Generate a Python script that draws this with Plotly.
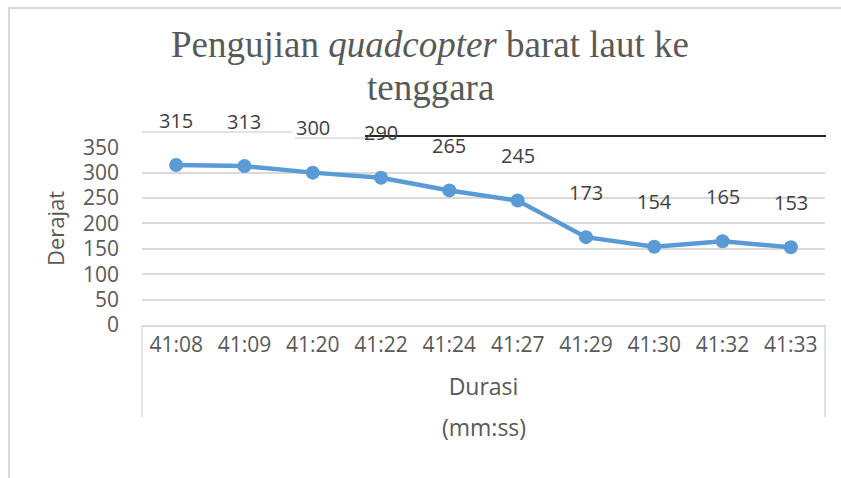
import plotly.graph_objects as go

categories = ["41:08", "41:09", "41:20", "41:22", "41:24", "41:27", "41:29", "41:30", "41:32", "41:33"]
derajat = [315, 313, 300, 290, 265, 245, 173, 154, 165, 153]
y_ticks = [0, 50, 100, 150, 200, 250, 300, 350]
grid_vals = [50, 100, 150, 200, 250, 300]
title_lines = ["Pengujian <i>quadcopter</i> barat laut ke", "tenggara"]

W, H = 841, 478
L, R, T, B = 142, 16, 132, 153
pw, ph = W - L - R, H - T - B

def px(x):
    return (x - L) / pw

def py(y):
    return (H - B - y) / ph

BLUE = "#5B9BD5"
GREY_TXT = "#595959"
GRID = "#D9D9D9"
SANS = "Open Sans"

fig = go.Figure()
fig.add_trace(go.Scatter(
    x=categories, y=derajat, mode="lines+markers",
    line=dict(color=BLUE, width=4.5),
    marker=dict(color=BLUE, size=14),
    hoverinfo="skip", showlegend=False,
))

for c, v in zip(categories, derajat):
    fig.add_annotation(x=c, y=v, text=str(v), showarrow=False, yshift=45,
                       font=dict(family=SANS, size=20, color="#404040"))

# chart title (two lines)
for line, yc in zip(title_lines, [45, 87]):
    fig.add_annotation(x=px(430), xref="paper", y=py(yc), yref="paper", text=line,
                       showarrow=False, xanchor="center", yanchor="middle",
                       font=dict(family="Liberation Serif", size=37, color=GREY_TXT))

fig.add_annotation(x=px(484), xref="paper", y=py(427), yref="paper", text="(mm:ss)",
                   showarrow=False, xanchor="center", yanchor="middle",
                   font=dict(family=SANS, size=23, color=GREY_TXT))

shapes = [
    # outer chart border
    dict(type="line", xref="paper", yref="paper", x0=px(9), x1=px(9), y0=py(480), y1=py(8),
         line=dict(color=GRID, width=2)),
    dict(type="line", xref="paper", yref="paper", x0=px(8), x1=px(845), y0=py(8), y1=py(8),
         line=dict(color=GRID, width=2)),
    # category box sides
    dict(type="line", xref="paper", yref="paper", x0=0, x1=0, y0=0, y1=py(417),
         line=dict(color=GRID, width=1.5)),
    dict(type="line", xref="paper", yref="paper", x0=1, x1=1, y0=0, y1=py(417),
         line=dict(color=GRID, width=1.5)),
    # top lines
    dict(type="line", xref="paper", yref="paper", x0=0, x1=px(292), y0=py(132), y1=py(132),
         line=dict(color=GRID, width=1.5)),
    dict(type="line", xref="paper", yref="paper", x0=px(295), x1=px(366), y0=py(138), y1=py(138),
         line=dict(color=GRID, width=1.5)),
    dict(type="line", xref="paper", yref="paper", x0=px(365), x1=px(826), y0=py(136), y1=py(136),
         line=dict(color="#262626", width=2)),
]

fig.update_layout(
    width=W, height=H,
    margin=dict(l=L, r=R, t=T, b=B),
    paper_bgcolor="white", plot_bgcolor="white",
    xaxis=dict(type="category", range=[-0.5, 9.5], showgrid=False,
               showline=True, linecolor=GRID, linewidth=1.5,
               ticks="", tickfont=dict(family=SANS, size=21, color=GREY_TXT),
               title=dict(text="Durasi", standoff=22,
                          font=dict(family=SANS, size=23, color=GREY_TXT))),
    yaxis=dict(range=[0, 380], tickvals=y_ticks, showgrid=False, zeroline=False,
               showline=False, ticks="", ticklabelstandoff=22,
               tickfont=dict(family=SANS, size=21, color=GREY_TXT),
               minor=dict(tickvals=grid_vals, showgrid=True, gridcolor=GRID, gridwidth=1.5, ticks=""),
               title=dict(text="Derajat", standoff=12,
                          font=dict(family=SANS, size=22, color=GREY_TXT))),
    shapes=shapes,
)

fig.write_html("out.html", config={"displayModeBar": False},
               post_script="document.body.style.margin='0';document.body.style.overflow='hidden';")
